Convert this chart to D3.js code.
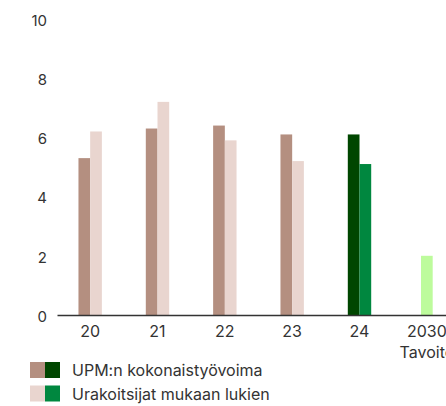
<!DOCTYPE html>
<html><head><meta charset="utf-8">
<script src="https://cdn.jsdelivr.net/npm/d3@7"></script>
<style>body{margin:0;background:#fff;overflow:hidden}svg{display:block}text{font-family:Inter,"Noto Sans",sans-serif;fill:#333}</style>
</head><body><svg id="c" width="446" height="406"></svg>
<script>
const categories = ["20","21","22","23","24","2030"];
const catLabels2 = ["","","","","","Tavoite"];
const upmTotal = [5.3, 6.3, 6.4, 6.1, 6.1, null];
const withContractors = [6.2, 7.2, 5.9, 5.2, 5.1, null];
const target2030 = [null, null, null, null, null, 2.0];
const yTicks = [0, 2, 4, 6, 8, 10];
const legendLabels = ["UPM:n kokonaistyövoima", "Urakoitsijat mukaan lukien"];

const svg = d3.select("#c");
const y = d3.scaleLinear().domain([0, 10]).range([315, 19]);
const x = d3.scaleBand().domain(categories).range([56.5, 460.5]);
const bw = 11.7;
const col1 = (i) => i === 4 ? "#004600" : "#b48f80";
const col2 = (i) => i === 4 ? "#00873f" : "#e9d5cf";

// y labels
svg.selectAll(".yl").data(yTicks).enter().append("text")
  .attr("x", 47).attr("y", d => y(d) + 1.5).attr("dy", "0.35em")
  .attr("text-anchor", "end").attr("font-size", 15).text(d => d);

categories.forEach((c, i) => {
  const cx = x(c) + x.bandwidth() / 2;
  if (upmTotal[i] != null) {
    svg.append("rect").attr("x", cx - bw).attr("width", bw)
      .attr("y", y(upmTotal[i])).attr("height", y(0) - y(upmTotal[i])).attr("fill", col1(i));
  }
  if (withContractors[i] != null) {
    svg.append("rect").attr("x", cx).attr("width", bw)
      .attr("y", y(withContractors[i])).attr("height", y(0) - y(withContractors[i])).attr("fill", col2(i));
  }
  if (target2030[i] != null) {
    svg.append("rect").attr("x", cx - bw / 2).attr("width", bw)
      .attr("y", y(target2030[i])).attr("height", y(0) - y(target2030[i])).attr("fill", "#bdfb9c");
  }
  svg.append("text").attr("x", cx).attr("y", 331).attr("dy", "0.35em")
    .attr("text-anchor", "middle").attr("font-size", 16).text(c);
  if (catLabels2[i]) {
    svg.append("text").attr("x", cx).attr("y", 352).attr("dy", "0.35em")
      .attr("text-anchor", "middle").attr("font-size", 16).text(catLabels2[i]);
  }
});

// baseline
svg.append("line").attr("x1", 57.5).attr("x2", 446).attr("y1", y(0) + 0.5).attr("y2", y(0) + 0.5)
  .attr("stroke", "#333").attr("stroke-width", 1.5);

// legend
const legCols = [["#b48f80", "#004600"], ["#e9d5cf", "#00873f"]];
legendLabels.forEach((l, i) => {
  const ly = 362 + i * 23.5;
  svg.append("rect").attr("x", 30).attr("y", ly).attr("width", 15).attr("height", 16).attr("fill", legCols[i][0]);
  svg.append("rect").attr("x", 45).attr("y", ly).attr("width", 15).attr("height", 16).attr("fill", legCols[i][1]);
  svg.append("text").attr("x", 72).attr("y", ly + 8.5).attr("dy", "0.35em").attr("font-size", 16).text(l);
});
</script></body></html>
